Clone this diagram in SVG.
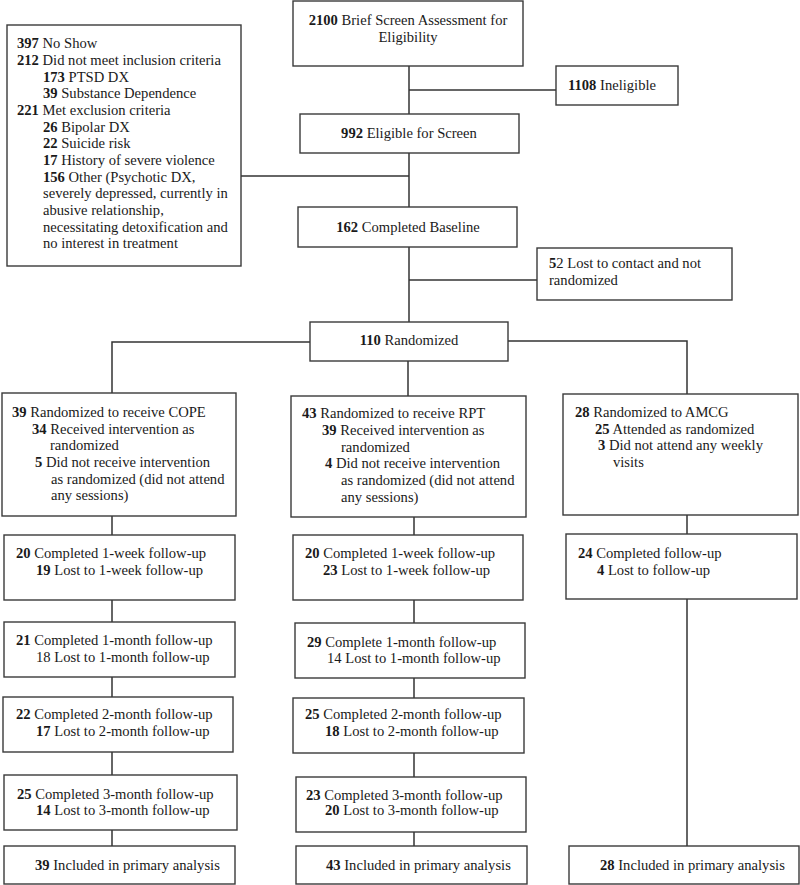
<svg xmlns="http://www.w3.org/2000/svg" width="800" height="885" viewBox="0 0 800 885">
<style>
.box{fill:#fff;stroke:#3a3a3a;stroke-width:1.4}
.ln{fill:none;stroke:#333;stroke-width:1.5}
text{font-family:"Liberation Serif","Times New Roman",serif;font-size:14.6px;fill:#1a1a1a}
.b{font-weight:bold}
.c{text-anchor:middle}
</style>
<rect width="800" height="885" fill="#fff"/>
<g id="connectors">
<line class="ln" x1="409" y1="66" x2="409" y2="114"/>
<line class="ln" x1="409" y1="90" x2="556" y2="90"/>
<line class="ln" x1="409" y1="153" x2="409" y2="207"/>
<line class="ln" x1="241" y1="176" x2="409" y2="176"/>
<line class="ln" x1="409" y1="247" x2="409" y2="322"/>
<line class="ln" x1="409" y1="280" x2="537" y2="280"/>
<polyline class="ln" points="310,342 112,342 112,393"/>
<polyline class="ln" points="508,341 687,341 687,394"/>
<line class="ln" x1="408" y1="361" x2="408" y2="396"/>
<line class="ln" x1="112" y1="516" x2="112" y2="535"/>
<line class="ln" x1="112" y1="600" x2="112" y2="622"/>
<line class="ln" x1="112" y1="677" x2="112" y2="697"/>
<line class="ln" x1="112" y1="752" x2="112" y2="775"/>
<line class="ln" x1="112" y1="830" x2="112" y2="846"/>
<line class="ln" x1="414" y1="517" x2="414" y2="535"/>
<line class="ln" x1="414" y1="600" x2="414" y2="623"/>
<line class="ln" x1="414" y1="678" x2="414" y2="698"/>
<line class="ln" x1="414" y1="753" x2="414" y2="777"/>
<line class="ln" x1="414" y1="832" x2="414" y2="846"/>
<line class="ln" x1="687" y1="515" x2="687" y2="534"/>
<line class="ln" x1="687" y1="599" x2="687" y2="846"/>
</g>
<g id="screen">
<rect class="box" x="293" y="1" width="230" height="65"/>
<text class="c" x="408" y="25"><tspan class="b">2100</tspan> Brief Screen Assessment for</text>
<text class="c" x="408" y="42">Eligibility</text>
</g>
<g id="ineligible">
<rect class="box" x="556" y="66" width="122" height="39"/>
<text x="568" y="90"><tspan class="b">1108</tspan> Ineligible</text>
</g>
<g id="eligible">
<rect class="box" x="300" y="114" width="219" height="39"/>
<text class="c" x="409" y="138"><tspan class="b">992</tspan> Eligible for Screen</text>
</g>
<g id="excluded">
<rect class="box" x="7" y="25" width="234" height="241"/>
<text x="17" y="48"><tspan class="b">397</tspan> No Show</text>
<text x="17" y="65"><tspan class="b">212</tspan> Did not meet inclusion criteria</text>
<text x="43" y="81.5"><tspan class="b">173</tspan> PTSD DX</text>
<text x="43" y="98"><tspan class="b">39</tspan> Substance Dependence</text>
<text x="17" y="115"><tspan class="b">221</tspan> Met exclusion criteria</text>
<text x="43" y="131.5"><tspan class="b">26</tspan> Bipolar DX</text>
<text x="43" y="148"><tspan class="b">22</tspan> Suicide risk</text>
<text x="43" y="165"><tspan class="b">17</tspan> History of severe violence</text>
<text x="43" y="181.5"><tspan class="b">156</tspan> Other (Psychotic DX,</text>
<text x="43" y="198">severely depressed, currently in</text>
<text x="43" y="215">abusive relationship,</text>
<text x="43" y="231.5">necessitating detoxification and</text>
<text x="43" y="248">no interest in treatment</text>
</g>
<g id="baseline">
<rect class="box" x="298" y="207" width="219" height="40"/>
<text class="c" x="408" y="232"><tspan class="b">162</tspan> Completed Baseline</text>
</g>
<g id="lost-contact">
<rect class="box" x="537" y="248" width="195" height="52"/>
<text x="549" y="268"><tspan class="b">5</tspan>2 Lost to contact and not</text>
<text x="549" y="285">randomized</text>
</g>
<g id="randomized">
<rect class="box" x="310" y="322" width="198" height="39"/>
<text class="c" x="409" y="345"><tspan class="b">110</tspan> Randomized</text>
</g>
<g id="cope">
<rect class="box" x="2" y="393" width="234" height="123"/>
<text x="12" y="417"><tspan class="b">39</tspan> Randomized to receive COPE</text>
<text x="32" y="433.5"><tspan class="b">34</tspan> Received intervention as</text>
<text x="50" y="450">randomized</text>
<text x="35" y="467"><tspan class="b">5</tspan> Did not receive intervention</text>
<text x="51" y="483.5">as randomized (did not attend</text>
<text x="51" y="500">any sessions)</text>
</g>
<g id="rpt">
<rect class="box" x="291" y="396" width="235" height="121"/>
<text x="302" y="418"><tspan class="b">43</tspan> Randomized to receive RPT</text>
<text x="322" y="435"><tspan class="b">39</tspan> Received intervention as</text>
<text x="341" y="451.5">randomized</text>
<text x="325" y="468"><tspan class="b">4</tspan> Did not receive intervention</text>
<text x="341" y="485">as randomized (did not attend</text>
<text x="341" y="501.5">any sessions)</text>
</g>
<g id="amcg">
<rect class="box" x="563" y="394" width="235" height="121"/>
<text x="575" y="417"><tspan class="b">28</tspan> Randomized to AMCG</text>
<text x="595" y="433.5"><tspan class="b">25</tspan> Attended as randomized</text>
<text x="598" y="450"><tspan class="b">3</tspan> Did not attend any weekly</text>
<text x="613" y="467">visits</text>
</g>
<g id="cope-1w">
<rect class="box" x="4" y="535" width="231" height="65"/>
<text x="16" y="558"><tspan class="b">20</tspan> Completed 1-week follow-up</text>
<text x="36" y="575"><tspan class="b">19</tspan> Lost to 1-week follow-up</text>
</g>
<g id="cope-1m">
<rect class="box" x="4" y="622" width="231" height="55"/>
<text x="16" y="645"><tspan class="b">21</tspan> Completed 1-month follow-up</text>
<text x="36" y="662">18 Lost to 1-month follow-up</text>
</g>
<g id="cope-2m">
<rect class="box" x="3" y="697" width="230" height="55"/>
<text x="16" y="719"><tspan class="b">22</tspan> Completed 2-month follow-up</text>
<text x="36" y="736"><tspan class="b">17</tspan> Lost to 2-month follow-up</text>
</g>
<g id="cope-3m">
<rect class="box" x="4" y="775" width="233" height="55"/>
<text x="17" y="799"><tspan class="b">25</tspan> Completed 3-month follow-up</text>
<text x="36" y="815"><tspan class="b">14</tspan> Lost to 3-month follow-up</text>
</g>
<g id="cope-final">
<rect class="box" x="4" y="846" width="231" height="38"/>
<text x="35" y="870"><tspan class="b">39</tspan> Included in primary analysis</text>
</g>
<g id="rpt-1w">
<rect class="box" x="293" y="535" width="230" height="65"/>
<text x="305" y="558"><tspan class="b">20</tspan> Completed 1-week follow-up</text>
<text x="323" y="575"><tspan class="b">23</tspan> Lost to 1-week follow-up</text>
</g>
<g id="rpt-1m">
<rect class="box" x="295" y="623" width="230" height="55"/>
<text x="307" y="647"><tspan class="b">29</tspan> Complete 1-month follow-up</text>
<text x="327" y="663">14 Lost to 1-month follow-up</text>
</g>
<g id="rpt-2m">
<rect class="box" x="293" y="698" width="231" height="55"/>
<text x="305" y="719"><tspan class="b">25</tspan> Completed 2-month follow-up</text>
<text x="325" y="736"><tspan class="b">18</tspan> Lost to 2-month follow-up</text>
</g>
<g id="rpt-3m">
<rect class="box" x="296" y="777" width="230" height="55"/>
<text x="306" y="800"><tspan class="b">23</tspan> Completed 3-month follow-up</text>
<text x="325" y="815"><tspan class="b">20</tspan> Lost to 3-month follow-up</text>
</g>
<g id="rpt-final">
<rect class="box" x="296" y="846" width="231" height="38"/>
<text x="326" y="870"><tspan class="b">43</tspan> Included in primary analysis</text>
</g>
<g id="amcg-fu">
<rect class="box" x="566" y="534" width="231" height="65"/>
<text x="578" y="558"><tspan class="b">24</tspan> Completed follow-up</text>
<text x="597" y="575"><tspan class="b">4</tspan> Lost to follow-up</text>
</g>
<g id="amcg-final">
<rect class="box" x="569" y="846" width="230" height="38"/>
<text x="600" y="870"><tspan class="b">28</tspan> Included in primary analysis</text>
</g>
</svg>
